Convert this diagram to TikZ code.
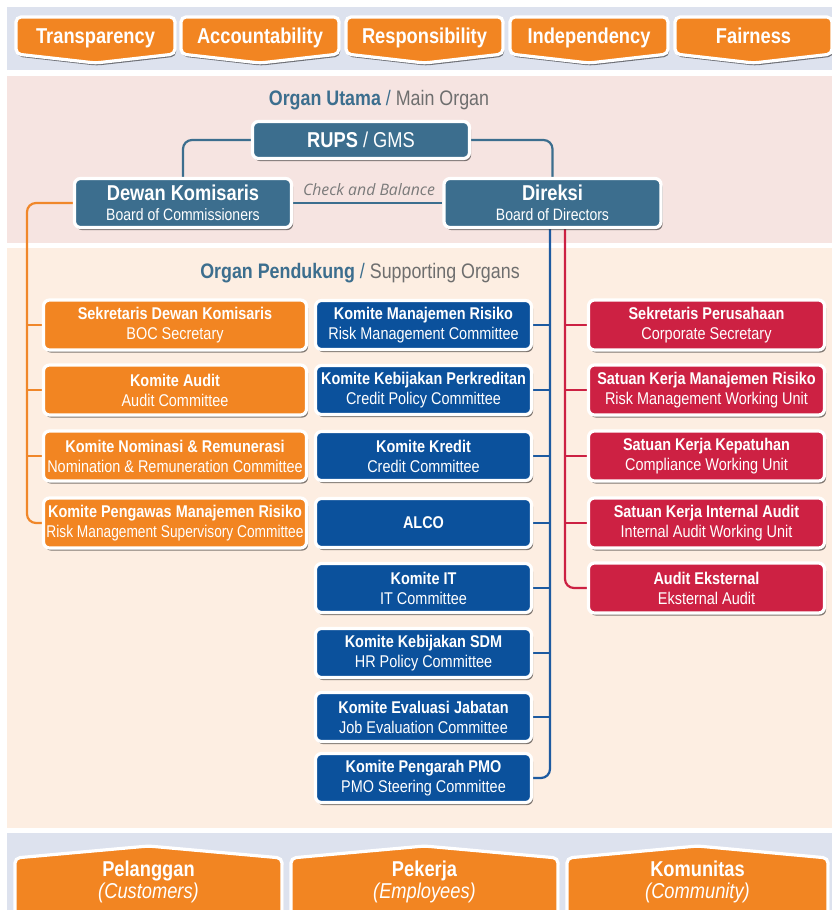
\documentclass[tikz,border=0pt]{standalone}
\usepackage{fontspec}
\usepackage{graphicx}
\setmainfont{Liberation Sans}[FakeStretch=0.85]
\newfontfamily\cbfont{Open Sans}
\usetikzlibrary{shadows}

\definecolor{tabor}{HTML}{F28522}
\definecolor{steel}{HTML}{3C6E8E}
\definecolor{navy}{HTML}{0B519C}
\definecolor{crim}{HTML}{CD2143}
\definecolor{bandgrey}{HTML}{DDE2EE}
\definecolor{bandpink}{HTML}{F6E4E1}
\definecolor{bandpeach}{HTML}{FDEEE2}
\definecolor{titlegrey}{HTML}{6E6E6E}
\definecolor{cbgrey}{HTML}{7A7A7A}
\definecolor{olink}{HTML}{F0872A}
\definecolor{blink}{HTML}{1D5AA0}
\definecolor{rlink}{HTML}{CC2143}

\pgfdeclarelayer{back}
\pgfdeclarelayer{links}
\pgfsetlayers{back,links,main}

\tikzset{
  card/.style={draw=white, line width=3.2pt, rounded corners=6pt, inner sep=0pt,
    align=center, text=white, font=\fontsize{17}{20}\selectfont,
    drop shadow={shadow xshift=1.6pt, shadow yshift=-2.6pt, opacity=.5, fill=black}},
  orangecard/.style={card, fill=tabor, minimum width=263pt, minimum height=50pt},
  navycard/.style={card, fill=navy, minimum width=216pt, minimum height=49pt},
  redcard/.style={card, fill=crim, minimum width=236pt, minimum height=50pt},
  maincard/.style={card, fill=steel, minimum width=217pt},
  tabshape/.style={fill=tabor, draw=white, line width=3.2pt, rounded corners=5pt,
    drop shadow={shadow xshift=1.2pt, shadow yshift=-2.6pt, opacity=.5, fill=black}},
  tabtext/.style={text=white, font=\fontsize{21.5}{21}\bfseries\selectfont, inner sep=0pt, anchor=base},
  basetext/.style={text=white, align=center, inner sep=0pt,
    font=\fontsize{21.5}{21.5}\selectfont},
  sectitle/.style={inner sep=0pt, font=\fontsize{21}{24}\selectfont},
  steelline/.style={draw=steel, line width=2.2pt},
  oline/.style={draw=olink, line width=2.2pt},
  bline/.style={draw=blink, line width=2.2pt},
  rline/.style={draw=rlink, line width=2.2pt},
}

\begin{document}
\begin{tikzpicture}[x=1pt, y=-1pt]
\useasboundingbox (0,0) rectangle (832,910);

% background bands
\begin{pgfonlayer}{back}
  \fill[bandgrey]  (7,7)   rectangle (832,70);
  \fill[bandpink]  (7,76)  rectangle (832,243);
  \fill[bandpeach] (7,248) rectangle (832,828);
  \fill[bandgrey]  (7,833) rectangle (832,910);
\end{pgfonlayer}

% principles along the top
\foreach \xa/\xb/\lbl [count=\i] in {14/177/Transparency, 179/341/Accountability,
    344/505/Responsibility, 508/670/Independency, 673/834/Fairness}{
  \draw[tabshape] (\xa+2,54) -- (\xa+2,17) -- (\xb-2,17) -- (\xb-2,54)
     -- ({(\xa+\xb)/2},63) -- cycle;
  \node[tabtext] (prin\i) at ({(\xa+\xb)/2},43) {\lbl};
}

% stakeholders along the bottom
\foreach \xa/\xb/\top/\sub [count=\i] in {13/284/Pelanggan/Customers,
    289/560/Pekerja/Employees, 565/830/Komunitas/Community}{
  \draw[tabshape] (\xa+2,918) -- (\xa+2,858) -- ({(\xa+\xb)/2},846)
     -- (\xb-2,858) -- (\xb-2,918) -- cycle;
  \node[basetext] (stake\i) at ({(\xa+\xb)/2},882)
     {{\bfseries \top}\\{\itshape (\sub)}};
}

% main organ
\node[sectitle] (mainttl) at (379,100)
  {{\color{steel}\bfseries Organ Utama} {\color{steel}/} {\color{titlegrey}Main Organ}};
\node[maincard, minimum height=37pt, font=\fontsize{21.5}{22}\selectfont] (rups) at (361,140)
  {{\bfseries RUPS} / GMS};
\node[maincard, minimum height=49pt] (dk) at (183,203)
  {{\fontsize{21.5}{19}\bfseries\selectfont Dewan Komisaris}\\
   {\fontsize{16.5}{19}\selectfont Board of Commissioners}};
\node[maincard, minimum height=49pt] (dr) at (552.5,203)
  {{\fontsize{21.5}{19}\bfseries\selectfont Direksi}\\
   {\fontsize{16.5}{19}\selectfont Board of Directors}};
\node[inner sep=0pt, text=cbgrey, font=\cbfont\itshape\fontsize{15.8}{17}\selectfont]
  (cb) at (369,190) {Check and Balance};

% supporting organs
\node[sectitle] (supttl) at (360,273)
  {{\color{steel}\bfseries Organ Pendukung} {\color{steel}/} {\color{titlegrey}Supporting Organs}};

\node[orangecard] (o1) at (175,325) {{\bfseries Sekretaris Dewan Komisaris}\\BOC Secretary};
\node[orangecard] (o2) at (175,390) {{\bfseries Komite Audit}\\Audit Committee};
\node[orangecard] (o3) at (175,456) {{\bfseries Komite Nominasi \& Remunerasi}\\Nomination \& Remuneration Committee};
\node[orangecard] (o4) at (175,523) {{\bfseries Komite Pengawas Manajemen Risiko}\\\scalebox{0.95}[1]{Risk Management Supervisory Committee}};

\node[navycard] (b1) at (423.5,325) {{\bfseries Komite Manajemen Risiko}\\Risk Management Committee};
\node[navycard] (b2) at (423.5,390) {{\bfseries Komite Kebijakan Perkreditan}\\Credit Policy Committee};
\node[navycard] (b3) at (423.5,456) {{\bfseries Komite Kredit}\\Credit Committee};
\node[navycard, font=\fontsize{17}{20}\bfseries\selectfont] (b4) at (423.5,523) {ALCO};
\node[navycard] (b5) at (423.5,588) {{\bfseries Komite IT}\\IT Committee};
\node[navycard] (b6) at (423.5,653) {{\bfseries Komite Kebijakan SDM}\\HR Policy Committee};
\node[navycard] (b7) at (423.5,717) {{\bfseries Komite Evaluasi Jabatan}\\Job Evaluation Committee};
\node[navycard] (b8) at (423.5,778) {{\bfseries Komite Pengarah PMO}\\PMO Steering Committee};

\node[redcard] (r1) at (706.5,325) {{\bfseries Sekretaris Perusahaan}\\Corporate Secretary};
\node[redcard] (r2) at (706.5,390) {{\bfseries Satuan Kerja Manajemen Risiko}\\Risk Management Working Unit};
\node[redcard] (r3) at (706.5,456) {{\bfseries Satuan Kerja Kepatuhan}\\Compliance Working Unit};
\node[redcard] (r4) at (706.5,523) {{\bfseries Satuan Kerja Internal Audit}\\Internal Audit Working Unit};
\node[redcard] (r5) at (706.5,588) {{\bfseries Audit Eksternal}\\Eksternal Audit};

% connectors
\coordinate (ol) at (27,0);
\coordinate (bl) at (550,0);
\coordinate (rl) at (565,0);
\begin{pgfonlayer}{links}
  \draw[steelline, rounded corners=9pt] (rups.west) -| (dk.north);
  \draw[steelline, rounded corners=9pt] (rups.east) -| (dr.north);
  \draw[steelline] (dk.east) -- (dr.west);

  \draw[oline, rounded corners=9pt] (dk.west) -| (ol |- o4.west) -- (o4.west);
  \foreach \i in {1,2,3} \draw[oline] (ol |- o\i.west) -- (o\i.west);

  \draw[bline, rounded corners=9pt] (dr.south -| bl) -- (bl |- b8.east) -- (b8.east);
  \foreach \i in {1,...,7} \draw[bline] (bl |- b\i.east) -- (b\i.east);

  \draw[rline, rounded corners=9pt] (dr.south -| rl) -- (rl |- r5.west) -- (r5.west);
  \foreach \i in {1,...,4} \draw[rline] (rl |- r\i.west) -- (r\i.west);
\end{pgfonlayer}
\end{tikzpicture}
\end{document}
